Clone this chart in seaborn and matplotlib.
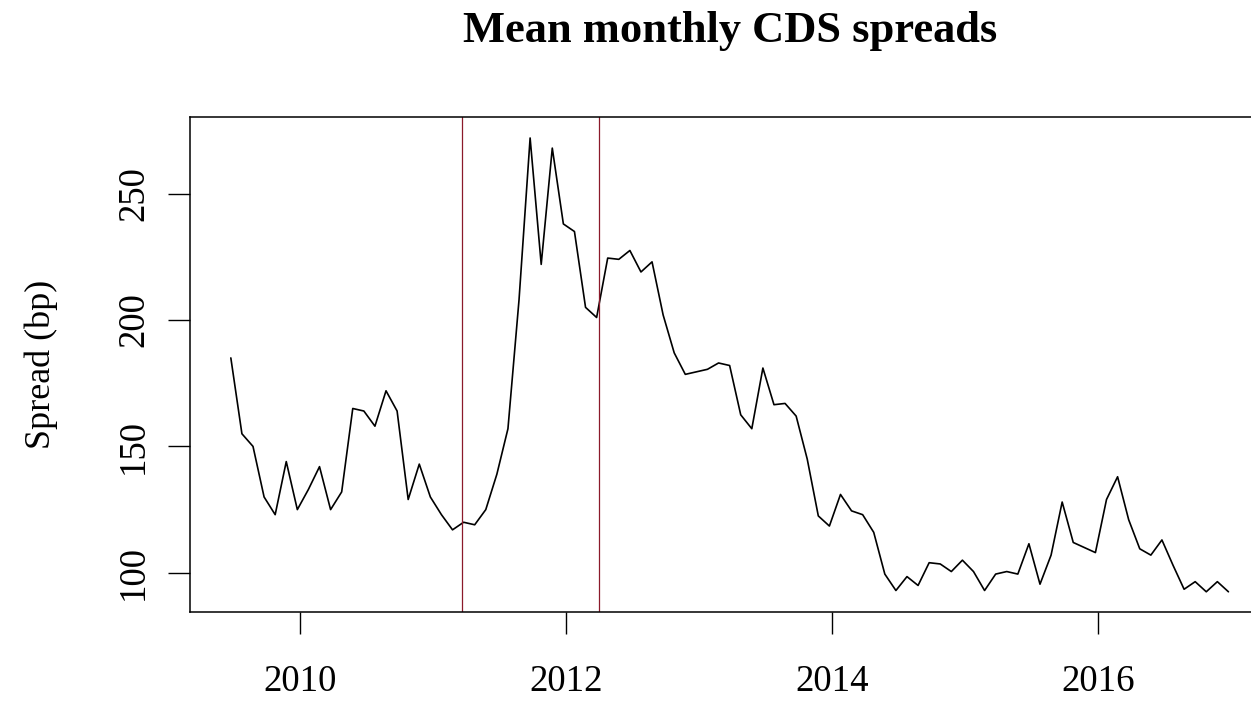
import numpy as np
import pandas as pd
import matplotlib
matplotlib.use("Agg")
import matplotlib.pyplot as plt
import seaborn as sns

# monthly mean CDS spread (bp), Jul 2009 .. Jan 2017
spread = [185, 155, 150, 130, 123, 144, 125, 133, 142, 125,
          132, 165, 164, 158, 172, 164, 129, 143, 130, 123,
          117, 120, 119, 125, 139, 157, 208, 272, 222, 268,
          238, 235, 205, 201, 224.5, 224, 227.5, 219, 223, 202,
          187, 178.5, 179.5, 180.5, 183, 182, 162.5, 157, 181, 166.5,
          167, 162, 145, 122.5, 118.5, 131, 124.5, 123, 116, 99.5,
          93, 98.5, 95, 104, 103.5, 100.5, 105, 100.5, 93, 99.5,
          100.5, 99.5, 111.5, 95.5, 107, 128, 112, 110, 108, 129,
          138, 121, 109.5, 107, 113, 103, 93.5, 96.5, 92.5, 96.5,
          92.5]
year = [2009.48 + i / 12 for i in range(len(spread))]
event_lines = [2011.215, 2012.245]
year_ticks = [2010, 2012, 2014, 2016]
spread_ticks = [100, 150, 200, 250]

df = pd.DataFrame({"year": year, "spread": spread})

sns.set_style("ticks")
plt.rcParams["font.family"] = ["Liberation Serif", "DejaVu Serif"]
plt.rcParams["text.color"] = "black"
plt.rcParams["axes.labelcolor"] = "black"
plt.rcParams["xtick.color"] = "black"
plt.rcParams["ytick.color"] = "black"

fig = plt.figure(figsize=(12.51, 7.01), dpi=100)
W, H = 1251, 701
ax = fig.add_axes([190 / W, (H - 612) / H, (1271 - 190) / W, (612 - 117) / H])

sns.lineplot(data=df, x="year", y="spread", ax=ax, color="black", linewidth=1.2)
for xv in event_lines:
    ax.axvline(xv, color="#8b1a2a", linewidth=0.9)

ax.set_xlim(2009.173, 2017.3)
ax.set_ylim(84.5, 280.3)
ax.set_xticks(year_ticks)
ax.set_yticks(spread_ticks)
ax.set_xlabel("")
ax.set_ylabel("Spread (bp)", fontsize=26, labelpad=42)
ax.set_title("Mean monthly CDS spreads", fontsize=32, fontweight="bold", pad=54)

for s in ax.spines.values():
    s.set_visible(True)
    s.set_linewidth(1.1)
    s.set_color("black")
ax.tick_params(axis="both", direction="out", length=16, width=1.0,
               color="black", labelcolor="black", labelsize=26.5)
ax.tick_params(axis="x", pad=22)
ax.tick_params(axis="y", pad=12)
for lab in ax.get_yticklabels():
    lab.set_rotation(90)
    lab.set_va("center")

fig.savefig("out.png", dpi=100)
